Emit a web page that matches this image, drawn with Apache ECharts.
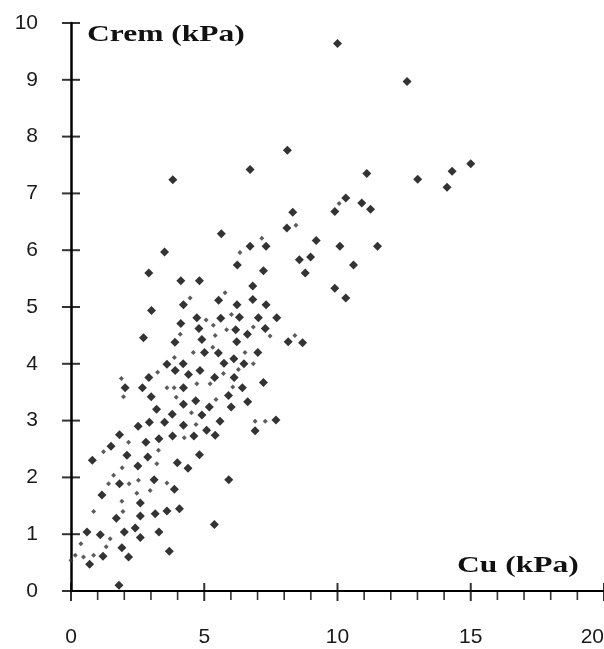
<!DOCTYPE html>
<html lang="en">
<head>
    <meta charset="UTF-8">
    <title>Crem vs Cu</title>
    <style>
        html, body { margin: 0; padding: 0; background: #fff; }
        div#container { width: 604px; height: 649px; }
    </style>
</head>
<body>
    <div id="container"></div>
    <script src="https://cdn.jsdelivr.net/npm/echarts@6/dist/echarts.min.js"></script>
    <script>
        // solid diamonds: Cu (kPa) and Crem (kPa)
        var cu = [
            10.00, 12.61, 8.12, 11.10, 13.01, 15.00, 14.30, 14.11, 8.32, 8.10,
            9.90, 10.31, 10.91, 11.24, 9.20, 10.09, 11.50, 8.57, 8.99, 8.79,
            10.60, 9.90, 10.31, 8.15, 8.69, 6.72, 5.64, 6.72, 7.32, 6.24,
            7.22, 3.82, 3.51, 2.92, 4.12, 4.82, 4.22, 3.02, 4.72, 4.12,
            4.80, 4.91, 2.72, 3.90, 5.01, 4.21, 3.60, 3.91, 4.41, 4.84,
            2.92, 2.03, 2.68, 4.22, 3.01, 4.22, 4.68, 3.21, 3.80, 3.51,
            2.94, 2.52, 4.22, 1.82, 6.82, 5.54, 6.82, 6.23, 7.32, 5.62,
            6.32, 7.03, 7.72, 6.18, 6.62, 7.29, 6.22, 5.53, 7.01, 6.11,
            5.74, 6.49, 5.39, 6.12, 7.22, 6.43, 5.91, 6.63, 5.19, 6.01,
            4.91, 5.59, 7.69, 6.91, 5.41, 5.09, 1.50, 2.81, 3.30, 3.81,
            4.61, 0.80, 2.10, 2.88, 4.82, 2.51, 3.99, 4.39, 1.82, 3.12,
            3.88, 1.16, 2.60, 1.70, 2.60, 3.16, 3.60, 4.07, 0.60, 1.10,
            2.00, 2.41, 2.60, 3.30, 1.91, 1.20, 2.16, 3.69, 0.70, 1.80,
            5.92, 5.38
        ];
        var crem = [
            9.64, 8.97, 7.76, 7.35, 7.25, 7.52, 7.39, 7.11, 6.67, 6.39,
            6.68, 6.92, 6.83, 6.72, 6.17, 6.07, 6.07, 5.83, 5.88, 5.60,
            5.74, 5.33, 5.16, 4.39, 4.37, 7.42, 6.29, 6.07, 6.07, 5.74,
            5.64, 7.24, 5.97, 5.60, 5.46, 5.46, 5.04, 4.94, 4.81, 4.71,
            4.62, 4.43, 4.46, 4.38, 4.20, 4.00, 3.99, 3.88, 3.81, 3.88,
            3.76, 3.58, 3.58, 3.58, 3.42, 3.29, 3.35, 3.20, 3.11, 2.97,
            2.97, 2.90, 2.92, 2.75, 5.37, 5.12, 5.13, 5.04, 5.04, 4.80,
            4.82, 4.81, 4.81, 4.60, 4.52, 4.62, 4.39, 4.19, 4.20, 4.09,
            4.01, 4.00, 3.76, 3.76, 3.67, 3.58, 3.44, 3.33, 3.24, 3.24,
            3.10, 2.99, 3.01, 2.82, 2.74, 2.83, 2.55, 2.62, 2.68, 2.73,
            2.73, 2.30, 2.39, 2.36, 2.40, 2.20, 2.26, 2.16, 1.89, 1.96,
            1.79, 1.69, 1.55, 1.28, 1.32, 1.36, 1.41, 1.45, 1.04, 0.99,
            1.04, 1.11, 0.94, 1.04, 0.76, 0.61, 0.60, 0.70, 0.47, 0.10,
            1.96, 1.17
        ];
        // points that only show as broken marks in the scan
        var cuFaint = [
            8.44, 10.06, 7.16, 6.34, 5.78, 4.47, 5.07, 6.02, 5.34, 5.84,
            6.84, 4.10, 5.41, 7.47, 8.40, 5.32, 4.59, 6.53, 3.88, 6.84,
            6.28, 3.25, 5.72, 1.89, 4.72, 5.22, 3.60, 3.87, 6.07, 1.97,
            3.95, 5.44, 4.52, 4.69, 6.91, 7.29, 1.22, 2.16, 4.25, 3.28,
            3.22, 1.92, 1.60, 1.41, 2.18, 2.53, 3.60, 2.97, 2.47, 1.91,
            0.85, 1.95, 1.47, 0.37, 0.16, 0.47, 0.85, 1.32, 0.00
        ];
        var cremFaint = [
            6.44, 6.82, 6.21, 5.96, 5.25, 5.16, 4.77, 4.87, 4.68, 4.60,
            4.65, 4.52, 4.50, 4.49, 4.50, 4.29, 4.20, 4.20, 4.11, 4.00,
            3.90, 3.85, 3.83, 3.74, 3.65, 3.65, 3.58, 3.58, 3.59, 3.42,
            3.41, 3.37, 3.14, 2.93, 2.99, 2.99, 2.45, 2.62, 2.70, 2.48,
            2.24, 2.17, 2.04, 1.89, 1.89, 1.95, 1.90, 1.77, 1.72, 1.58,
            1.40, 1.40, 0.92, 0.83, 0.63, 0.60, 0.63, 0.78, 0.54
        ];
        var xTicks = [0, 5, 10, 15, 20];
        var xMinorTicks = [1, 2, 3, 4, 6, 7, 8, 9, 11, 12, 13, 14, 16, 17, 18, 19];
        var yTicks = [0, 1, 2, 3, 4, 5, 6, 7, 8, 9, 10];

        function pairs(xs, ys) {
            var out = [];
            for (var i = 0; i < xs.length; i++) out.push([xs[i], ys[i]]);
            return out;
        }

        var labelFont = { fontFamily: 'Liberation Sans', fontSize: 21, color: '#1a1a1a' };
        var ink = '#000';

        // tick marks drawn as thin rect symbols sitting on the axes
        function tickSeries(name, data, size, offset) {
            return {
                name: name,
                type: 'scatter',
                silent: true,
                clip: false,
                symbol: 'rect',
                symbolSize: size,
                symbolOffset: offset,
                itemStyle: { color: ink },
                data: data,
                z: 1
            };
        }

        var chart = echarts.init(document.getElementById('container'));
        var options = {
            animation: false,
            backgroundColor: '#fff',
            grid: { left: 71, right: 0, top: 23, bottom: 58, containLabel: false, outerBoundsMode: 'none' },
            xAxis: {
                type: 'value',
                min: xTicks[0],
                max: xTicks[xTicks.length - 1],
                interval: 5,
                splitLine: { show: false },
                axisLine: { show: true, lineStyle: { color: ink, width: 2 } },
                axisTick: { show: false },
                minorTick: { show: false },
                axisLabel: {
                    margin: 36,
                    alignMaxLabel: 'right',
                    fontFamily: labelFont.fontFamily,
                    fontSize: labelFont.fontSize,
                    color: labelFont.color
                }
            },
            yAxis: {
                type: 'value',
                min: yTicks[0],
                max: yTicks[yTicks.length - 1],
                interval: 1,
                splitLine: { show: false },
                axisLine: { show: true, lineStyle: { color: ink, width: 2.5 } },
                axisTick: { show: false },
                axisLabel: {
                    margin: 33,
                    fontFamily: labelFont.fontFamily,
                    fontSize: labelFont.fontSize,
                    color: labelFont.color
                }
            },
            graphic: [{
                type: 'text',
                left: 87,
                top: 24,
                scaleX: 1.37,
                style: {
                    text: 'Crem (kPa)',
                    fontFamily: 'Liberation Serif',
                    fontWeight: 'bold',
                    fontSize: 23,
                    fill: '#111'
                }
            }, {
                type: 'text',
                left: 457,
                top: 555,
                scaleX: 1.37,
                style: {
                    text: 'Cu (kPa)',
                    fontFamily: 'Liberation Serif',
                    fontWeight: 'bold',
                    fontSize: 23,
                    fill: '#111'
                }
            }],
            series: [
                tickSeries('y ticks', yTicks.map(function (v) { return [xTicks[0], v]; }), [18, 2], [0, 0]),
                tickSeries('x ticks', xTicks.map(function (v) { return [v, yTicks[0]]; }), [2, 18], [0, 1]),
                tickSeries('x minor ticks', xMinorTicks.map(function (v) { return [v, yTicks[0]]; }), [1.6, 9], [0, 4.5]),
                {
                    name: 'Crem',
                    type: 'scatter',
                    symbol: 'diamond',
                    symbolSize: 9,
                    itemStyle: { color: '#000' },
                    data: pairs(cu, crem),
                    z: 3
                }, {
                    name: 'Crem (faint)',
                    type: 'scatter',
                    symbol: 'diamond',
                    symbolSize: 5,
                    itemStyle: { color: '#333' },
                    data: pairs(cuFaint, cremFaint),
                    z: 2
                }
            ]
        };
        chart.setOption(options);
    </script>
</body>
</html>
